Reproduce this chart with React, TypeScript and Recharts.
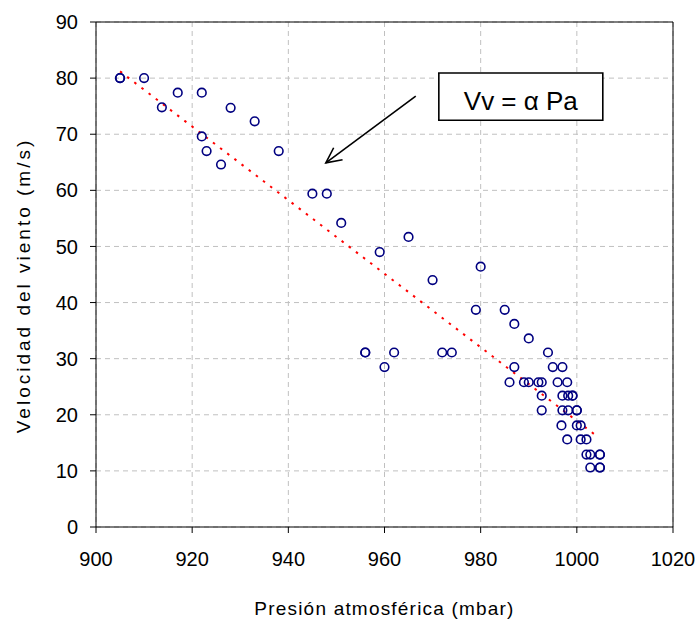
import React from 'react';
import {
  ScatterChart,
  Scatter,
  XAxis,
  YAxis,
  CartesianGrid,
  ReferenceLine,
  ReferenceArea,
} from 'recharts';

// Atmospheric pressure (mbar) of each observation
const pressure: number[] = [
  905, 905, 910, 913.7, 917, 922, 928, 933, 922, 923, 938, 926, 945, 948,
  951, 965, 959, 980, 970, 979, 985, 987, 990, 994,
  956, 956, 962, 972, 974, 960, 987, 995, 997,
  986, 989, 990, 992, 992.7, 996, 998,
  992.7, 997, 998.2, 999.1, 999.1,
  992.7, 997, 998.2, 1000, 1000,
  996.8, 1000, 1000.8,
  998, 1000.8, 1002,
  1002, 1002.8, 1004.8, 1004.8,
  1002.8, 1004.8, 1004.8,
];

// Wind speed (m/s) of each observation
const windSpeed: number[] = [
  80, 80, 80, 74.8, 77.4, 77.4, 74.7, 72.3, 69.6, 67, 67, 64.6, 59.4, 59.4,
  54.2, 51.7, 49, 46.4, 44, 38.7, 38.7, 36.2, 33.6, 31.1,
  31.1, 31.1, 31.1, 31.1, 31.1, 28.5, 28.5, 28.5, 28.5,
  25.8, 25.8, 25.8, 25.8, 25.8, 25.8, 25.8,
  23.4, 23.4, 23.4, 23.4, 23.4,
  20.8, 20.8, 20.8, 20.8, 20.8,
  18.1, 18.1, 18.1,
  15.6, 15.6, 15.6,
  12.9, 12.9, 12.9, 12.9,
  10.6, 10.6, 10.6,
];

// Linear trend line end points (pressure, wind speed)
const trendPressure: number[] = [905, 1004.6];
const trendWind: number[] = [81.2, 15.9];

// Annotation box and arrow (data coordinates)
const boxPressure: number[] = [971.3, 1005.4];
const boxWind: number[] = [72.5, 80.9];
const arrowPressure: number[] = [966.5, 947.8];
const arrowWind: number[] = [76.8, 64.9];
const annotationText = 'Vv = \u03b1 Pa';

const xTicks: number[] = [900, 920, 940, 960, 980, 1000, 1020];
const yTicks: number[] = [0, 10, 20, 30, 40, 50, 60, 70, 80, 90];

const xTitle = 'Presión atmosférica (mbar)';
const yTitle = 'Velocidad del viento (m/s)';

const FONT = '"Liberation Sans", Arial, Helvetica, sans-serif';

const data = pressure.map((p, i) => ({ x: p, y: windSpeed[i] }));

const CircleMarker = (props: any) => {
  const { cx, cy } = props;
  if (cx == null || cy == null) return <g />;
  return (
    <circle cx={cx} cy={cy} r={4.3} fill="none" stroke="#000080" strokeWidth={1.6} />
  );
};

const ArrowShape = (props: any) => {
  const { x1, y1, x2, y2 } = props;
  if ([x1, y1, x2, y2].some((v) => v == null || isNaN(v))) return <g />;
  const dx = x2 - x1;
  const dy = y2 - y1;
  const len = Math.sqrt(dx * dx + dy * dy) || 1;
  const ux = dx / len;
  const uy = dy / len;
  const head = 17;
  const ang = (26 * Math.PI) / 180;
  const bx = -ux;
  const by = -uy;
  const h1x = x2 + head * (bx * Math.cos(ang) - by * Math.sin(ang));
  const h1y = y2 + head * (bx * Math.sin(ang) + by * Math.cos(ang));
  const h2x = x2 + head * (bx * Math.cos(-ang) - by * Math.sin(-ang));
  const h2y = y2 + head * (bx * Math.sin(-ang) + by * Math.cos(-ang));
  return (
    <g>
      <line x1={x1} y1={y1} x2={x2} y2={y2} stroke="#000" strokeWidth={1.6} />
      <polyline
        points={`${h1x},${h1y} ${x2},${y2} ${h2x},${h2y}`}
        fill="none"
        stroke="#000"
        strokeWidth={1.6}
      />
    </g>
  );
};

export default function App() {
  return (
    <div
      style={{
        width: 696,
        height: 622,
        boxSizing: 'border-box',
        padding: '8px 0 0 8px',
        overflow: 'hidden',
        fontFamily: FONT,
        background: '#fff',
      }}
    >
      <style>{'html, body { margin: 0; padding: 0; background: #fff; overflow: hidden; }'}</style>
      <ScatterChart
        width={688}
        height={614}
        margin={{ top: 14, right: 23, bottom: 0, left: 0 }}
        style={{ fontFamily: FONT }}
      >
        <CartesianGrid stroke="#c0c0c0" strokeDasharray="5 4" strokeWidth={1} />
        <XAxis
          type="number"
          dataKey="x"
          domain={[900, 1020]}
          ticks={xTicks}
          interval={0}
          height={95}
          tickSize={6}
          tickMargin={19}
          axisLine={{ stroke: '#000', strokeWidth: 1 }}
          tickLine={{ stroke: '#000' }}
          tick={{ fontSize: 20, fill: '#000', fontFamily: FONT }}
          allowDataOverflow
          label={{
            content: (p: any) => {
              const vb = p.viewBox || {};
              return (
                <text
                  x={vb.x + vb.width / 2}
                  y={vb.y + 88}
                  textAnchor="middle"
                  fontSize={19}
                  fill="#000"
                  fontFamily={FONT}
                  letterSpacing={1.2}
                >
                  {xTitle}
                </text>
              );
            },
          }}
        />
        <YAxis
          type="number"
          dataKey="y"
          domain={[0, 90]}
          ticks={yTicks}
          interval={0}
          width={88}
          tickSize={6}
          tickMargin={12}
          axisLine={{ stroke: '#000', strokeWidth: 1 }}
          tickLine={{ stroke: '#000' }}
          tick={{ fontSize: 20, fill: '#000', fontFamily: FONT }}
          allowDataOverflow
          label={{
            content: (p: any) => {
              const vb = p.viewBox || {};
              const cx = 22;
              const cy = vb.y + vb.height / 2 + 11;
              return (
                <text
                  x={cx}
                  y={cy}
                  transform={`rotate(-90 ${cx} ${cy})`}
                  textAnchor="middle"
                  fontSize={19}
                  fill="#000"
                  fontFamily={FONT}
                  letterSpacing={3}
                >
                  {yTitle}
                </text>
              );
            },
          }}
        />
        <ReferenceLine y={90} stroke="#000" strokeWidth={1} />
        <ReferenceLine x={1020} stroke="#000" strokeWidth={1} />
        <ReferenceLine
          segment={[
            { x: trendPressure[0], y: trendWind[0] },
            { x: trendPressure[1], y: trendWind[1] },
          ]}
          stroke="#ff0000"
          strokeWidth={2}
          strokeDasharray="2.5 6.5"
          ifOverflow="visible"
        />
        <Scatter
          data={data}
          shape={CircleMarker}
          isAnimationActive={false}
          legendType="none"
        />
        <ReferenceArea
          x1={boxPressure[0]}
          x2={boxPressure[1]}
          y1={boxWind[0]}
          y2={boxWind[1]}
          fill="#fff"
          fillOpacity={1}
          stroke="#000"
          strokeWidth={1.6}
          ifOverflow="visible"
          label={{
            content: (p: any) => {
              const vb = p.viewBox || {};
              return (
                <text
                  x={vb.x + vb.width / 2}
                  y={vb.y + vb.height / 2 + 13}
                  textAnchor="middle"
                  fontSize={26}
                  fill="#000"
                  fontFamily={FONT}
                >
                  {annotationText}
                </text>
              );
            },
          }}
        />
        <ReferenceLine
          segment={[
            { x: arrowPressure[0], y: arrowWind[0] },
            { x: arrowPressure[1], y: arrowWind[1] },
          ]}
          stroke="#000"
          ifOverflow="visible"
          shape={ArrowShape}
        />
      </ScatterChart>
    </div>
  );
}
